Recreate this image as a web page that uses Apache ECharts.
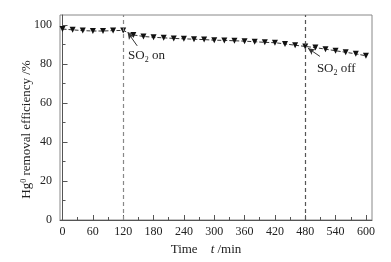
<!DOCTYPE html>
<html>
<head>
<meta charset="utf-8">
<script src="https://cdn.jsdelivr.net/npm/echarts@6/dist/echarts.min.js"></script>
<style>
  html, body { margin: 0; padding: 0; background: #fff; }
  #main { width: 391px; height: 262px; }
</style>
</head>
<body>
<div id="main"></div>
<script>
// time (min) and Hg0 removal efficiency (%)
var times = [0, 20, 40, 60, 80, 100, 120, 140, 160, 180, 200, 220, 240, 260, 280, 300,
             320, 340, 360, 380, 400, 420, 440, 460, 480, 500, 520, 540, 560, 580, 600];
var efficiency = [97.8, 97.4, 97, 96.8, 96.8, 97, 97.1, 94.8, 94, 93.6, 93.3, 93, 92.8, 92.6, 92.4, 92.1,
                  92, 91.8, 91.6, 91.3, 91, 90.8, 90.2, 89.5, 88.9, 88.3, 87.5, 86.7, 85.9, 85.1, 84.1];

// tick values
var xMajor = [0, 60, 120, 180, 240, 300, 360, 420, 480, 540, 600];
var xMinor = [30, 90, 150, 210, 270, 330, 390, 450, 510, 570];
var yMajor = [0, 20, 40, 60, 80, 100];
var yMinor = [10, 30, 50, 70, 90];

// SO2 switched on / off
var switchTimes = [120, 480];
// arrows: [head, tail] in data coords, label anchor in data coords
var arrowOn = [[128.8, 96.1], [147.7, 89.2]];
var arrowOff = [[485.4, 88.0], [509, 83.8]];
var labelOn = [129.5, 84.2];
var labelOff = [503, 77.8];

var font = "'Liberation Serif', 'Times New Roman', serif";

var myChart = echarts.init(document.getElementById('main'));

var option = {
    animation: false,
    backgroundColor: '#fff',
    grid: {
        left: 60, right: 19, top: 15, bottom: 42,
        show: true,
        borderColor: '#888',
        borderWidth: 1
    },
    xAxis: [{
        type: 'value',
        min: -5, max: 612,
        name: 'Time    {it|t} /min',
        nameLocation: 'middle',
        nameGap: 23,
        nameMoveOverlap: false,
        nameTextStyle: {
            fontFamily: font, fontSize: 13, color: '#222',
            padding: [0, 20, 0, 0],
            rich: { it: { fontFamily: font, fontSize: 13, fontStyle: 'italic', color: '#222' } }
        },
        axisLine: { lineStyle: { color: '#555' } },
        axisTick: { inside: true, length: 5, customValues: xMajor, lineStyle: { color: '#555' } },
        axisLabel: { customValues: xMajor, margin: 6, fontFamily: font, fontSize: 12, color: '#222' },
        splitLine: { show: false }
    }, {
        type: 'value',
        min: -5, max: 612,
        position: 'bottom',
        axisLine: { show: false },
        axisTick: { inside: true, length: 3, customValues: xMinor, lineStyle: { color: '#555' } },
        axisLabel: { show: false },
        splitLine: { show: false }
    }],
    yAxis: [{
        type: 'value',
        min: 0, max: 105,
        name: '{n|Hg}{sup|0}{n| removal efficiency /%}',
        nameLocation: 'middle',
        nameGap: 27,
        nameMoveOverlap: false,
        nameTextStyle: {
            fontFamily: font, fontSize: 13, color: '#222',
            padding: [0, 24, 0, 0],
            rich: {
                n: { fontFamily: font, fontSize: 13, color: '#222' },
                sup: { fontFamily: font, fontSize: 8, color: '#222', verticalAlign: 'top' }
            }
        },
        axisLine: { lineStyle: { color: '#555' } },
        axisTick: { inside: true, length: 5, customValues: yMajor, lineStyle: { color: '#555' } },
        axisLabel: { customValues: yMajor, margin: 8, fontFamily: font, fontSize: 12, color: '#222' },
        splitLine: { show: false }
    }, {
        type: 'value',
        min: 0, max: 105,
        position: 'left',
        axisLine: { show: false },
        axisTick: { inside: true, length: 3, customValues: yMinor, lineStyle: { color: '#555' } },
        axisLabel: { show: false },
        splitLine: { show: false }
    }],
    series: [{
        type: 'line',
        data: times.map(function (t, i) { return [t, efficiency[i]]; }),
        symbol: 'triangle',
        symbolRotate: 180,
        symbolSize: 6,
        itemStyle: { color: '#111' },
        lineStyle: { color: '#333', width: 1, type: [4, 2] },
        markLine: {
            silent: true,
            label: { show: false },
            data: [
                [{ coord: [switchTimes[0], 0], symbol: 'none' }, { coord: [switchTimes[0], 105], symbol: 'none', lineStyle: { color: '#888', type: [4, 3], width: 1.2 } }],
                [{ coord: [switchTimes[1], 0], symbol: 'none' }, { coord: [switchTimes[1], 105], symbol: 'none', lineStyle: { color: '#555', type: [4, 3], width: 1.2 } }],
                [{ coord: arrowOn[0], symbol: 'arrow', symbolSize: [5, 7] }, { coord: arrowOn[1], symbol: 'none', lineStyle: { color: '#333', type: 'solid', width: 1 } }],
                [{ coord: arrowOff[0], symbol: 'arrow', symbolSize: [5, 7] }, { coord: arrowOff[1], symbol: 'none', lineStyle: { color: '#333', type: 'solid', width: 1 } }]
            ]
        }
    }]
};

myChart.setOption(option);

// SO2 labels placed at data coordinates
var pOn = myChart.convertToPixel({ gridIndex: 0 }, labelOn);
var pOff = myChart.convertToPixel({ gridIndex: 0 }, labelOff);
function soText(p, word) {
    return {
        type: 'text',
        x: p[0], y: p[1],
        style: {
            text: '{n|SO}{sub|2}{n| ' + word + '}',
            verticalAlign: 'middle',
            rich: {
                n: { fontFamily: font, fontSize: 13, fill: '#222' },
                sub: { fontFamily: font, fontSize: 8, fill: '#222', verticalAlign: 'bottom', lineHeight: 17 }
            }
        }
    };
}
myChart.setOption({ graphic: [soText(pOn, 'on'), soText(pOff, 'off')] });

window.addEventListener("resize", function () {
    myChart.resize();
});
</script>
</body>
</html>
